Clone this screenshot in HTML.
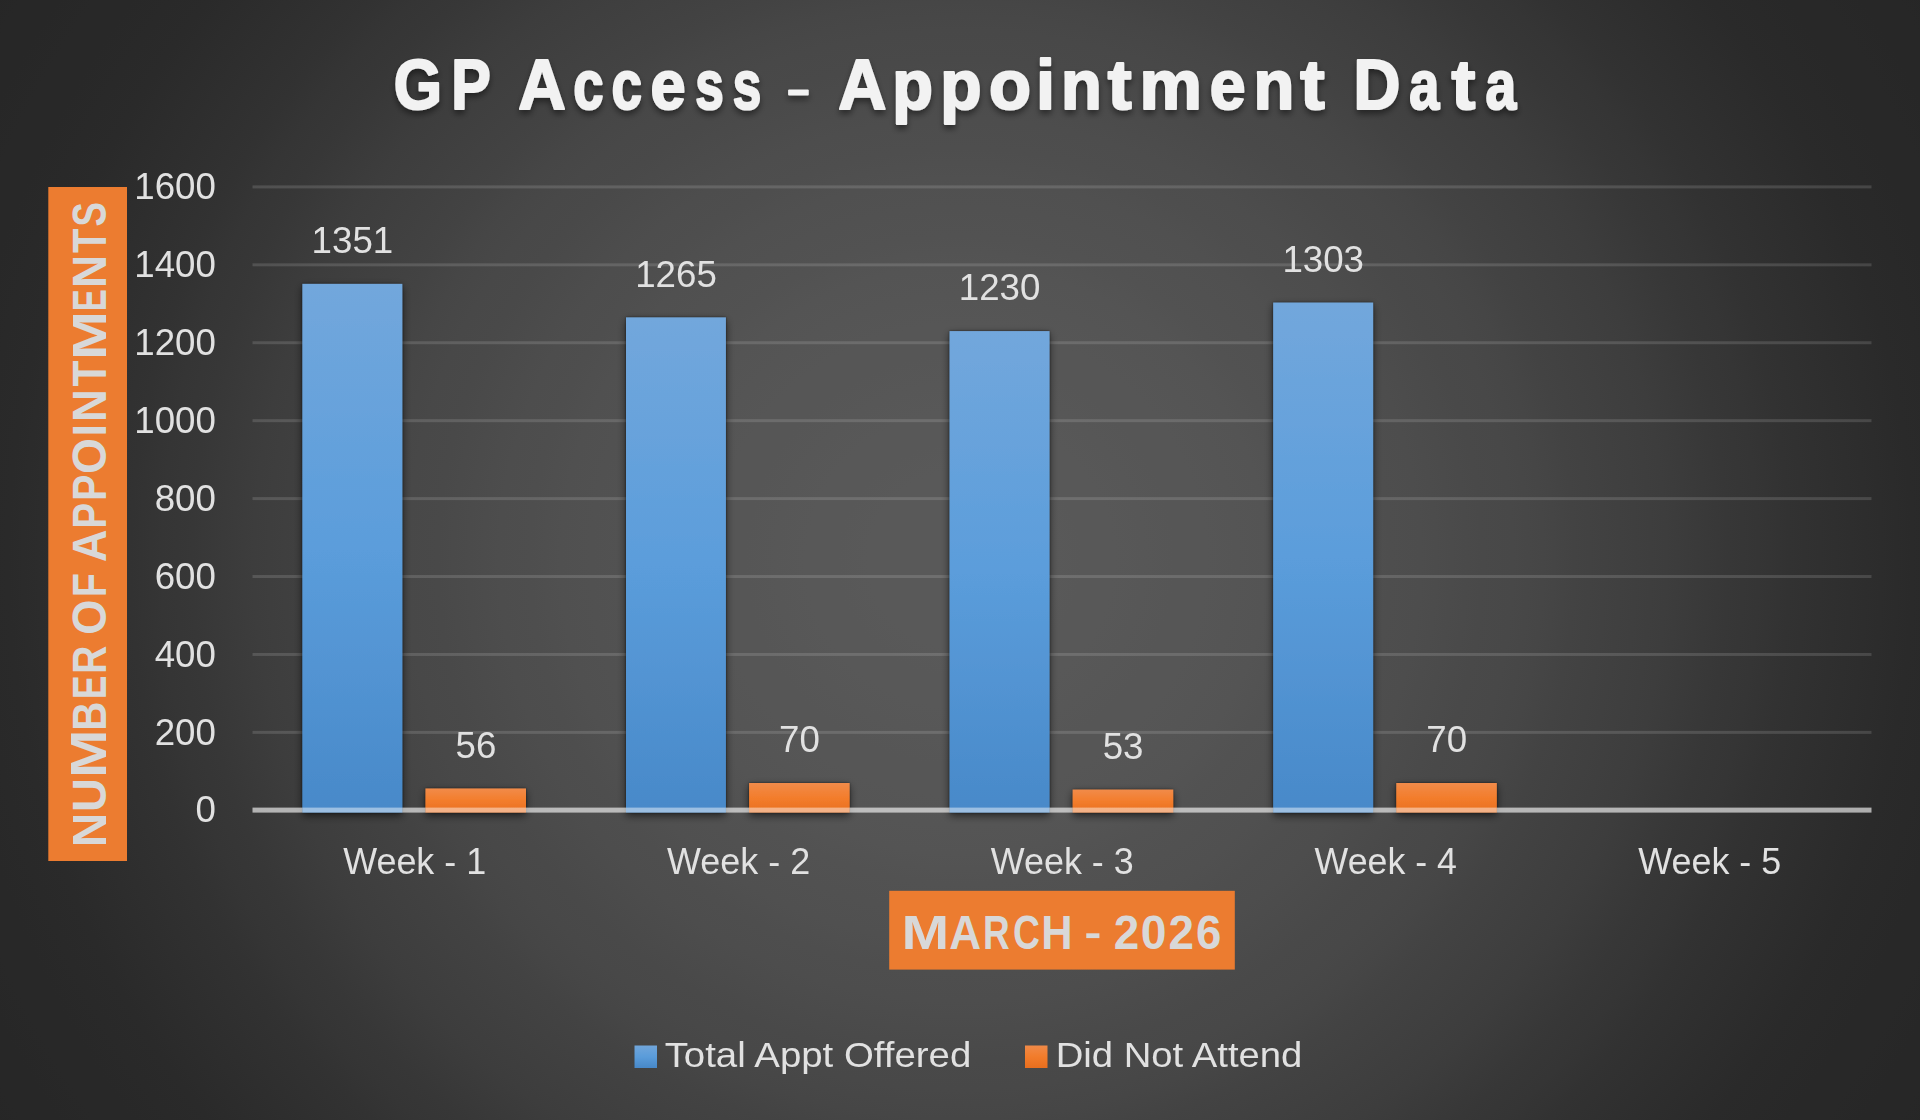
<!DOCTYPE html>
<html><head><meta charset="utf-8"><title>GP Access - Appointment Data</title>
<style>
html,body{margin:0;padding:0;background:#262626;}
body{width:1920px;height:1120px;overflow:hidden;}
svg{display:block;}
text{font-family:"Liberation Sans",sans-serif;}
.r{fill:#e2e2e2;}
.b{font-weight:bold;}
</style></head><body>
<svg width="1920" height="1120" viewBox="0 0 1920 1120">
<defs>
<radialGradient id="bg" gradientUnits="userSpaceOnUse" cx="0" cy="0" r="1" gradientTransform="translate(960 560) scale(1228.5 1176.5)">
<stop offset="0.0000" stop-color="#595959"/><stop offset="0.0250" stop-color="#595959"/><stop offset="0.0500" stop-color="#595959"/><stop offset="0.0750" stop-color="#595959"/><stop offset="0.1000" stop-color="#585858"/><stop offset="0.1250" stop-color="#585858"/><stop offset="0.1500" stop-color="#575757"/><stop offset="0.1750" stop-color="#565656"/><stop offset="0.2000" stop-color="#565656"/><stop offset="0.2250" stop-color="#555555"/><stop offset="0.2500" stop-color="#545454"/><stop offset="0.2750" stop-color="#525252"/><stop offset="0.3000" stop-color="#515151"/><stop offset="0.3250" stop-color="#505050"/><stop offset="0.3500" stop-color="#4e4e4e"/><stop offset="0.3750" stop-color="#4d4d4d"/><stop offset="0.4000" stop-color="#4b4b4b"/><stop offset="0.4250" stop-color="#494949"/><stop offset="0.4500" stop-color="#484848"/><stop offset="0.4750" stop-color="#464646"/><stop offset="0.5000" stop-color="#434343"/><stop offset="0.5250" stop-color="#414141"/><stop offset="0.5500" stop-color="#3f3f3f"/><stop offset="0.5750" stop-color="#3d3d3d"/><stop offset="0.6000" stop-color="#3a3a3a"/><stop offset="0.6250" stop-color="#373737"/><stop offset="0.6500" stop-color="#353535"/><stop offset="0.6750" stop-color="#323232"/><stop offset="0.7000" stop-color="#303030"/><stop offset="0.7250" stop-color="#2e2e2e"/><stop offset="0.7500" stop-color="#2c2c2c"/><stop offset="0.7750" stop-color="#2a2a2a"/><stop offset="0.8000" stop-color="#292929"/><stop offset="0.8250" stop-color="#282828"/><stop offset="0.8500" stop-color="#282828"/><stop offset="0.8750" stop-color="#272727"/><stop offset="0.9000" stop-color="#272727"/><stop offset="0.9250" stop-color="#262626"/><stop offset="0.9500" stop-color="#262626"/><stop offset="0.9750" stop-color="#262626"/><stop offset="1.0000" stop-color="#262626"/></radialGradient>
<linearGradient id="blue" x1="0" y1="0" x2="0" y2="1">
<stop offset="0" stop-color="#72a7dc"/><stop offset="0.5" stop-color="#5b9ddb"/><stop offset="1" stop-color="#4889c9"/></linearGradient>
<linearGradient id="org" x1="0" y1="0" x2="0" y2="1">
<stop offset="0" stop-color="#f18b49"/><stop offset="0.5" stop-color="#f37d2c"/><stop offset="1" stop-color="#e96f1f"/></linearGradient>
<filter id="sh" x="-30%" y="-10%" width="160%" height="130%">
<feGaussianBlur in="SourceAlpha" stdDeviation="4.5"/><feOffset dx="0" dy="3"/>
<feComponentTransfer result="a"><feFuncA type="linear" slope="0.6"/></feComponentTransfer>
<feGaussianBlur in="SourceAlpha" stdDeviation="1.1"/>
<feComponentTransfer result="b"><feFuncA type="linear" slope="0.55"/></feComponentTransfer>
<feMerge><feMergeNode in="a"/><feMergeNode in="b"/><feMergeNode in="SourceGraphic"/></feMerge></filter>
<filter id="shs" x="-30%" y="-100%" width="160%" height="400%">
<feGaussianBlur in="SourceAlpha" stdDeviation="4.5"/><feOffset dx="0" dy="3"/>
<feComponentTransfer result="a"><feFuncA type="linear" slope="0.6"/></feComponentTransfer>
<feGaussianBlur in="SourceAlpha" stdDeviation="1.1"/>
<feComponentTransfer result="b"><feFuncA type="linear" slope="0.55"/></feComponentTransfer>
<feMerge><feMergeNode in="a"/><feMergeNode in="b"/><feMergeNode in="SourceGraphic"/></feMerge></filter>
<filter id="tsh" x="-5%" y="-20%" width="110%" height="150%">
<feGaussianBlur in="SourceAlpha" stdDeviation="3"/><feOffset dx="0" dy="4"/>
<feComponentTransfer><feFuncA type="linear" slope="0.45"/></feComponentTransfer>
<feMerge><feMergeNode/><feMergeNode in="SourceGraphic"/></feMerge></filter>
</defs>
<rect width="1920" height="1120" fill="url(#bg)"/>

<rect x="252.5" y="730.88" width="1619.0" height="3.0" fill="#f2f2f2" fill-opacity="0.145"/>
<rect x="252.5" y="652.95" width="1619.0" height="3.0" fill="#f2f2f2" fill-opacity="0.145"/>
<rect x="252.5" y="575.02" width="1619.0" height="3.0" fill="#f2f2f2" fill-opacity="0.145"/>
<rect x="252.5" y="497.10" width="1619.0" height="3.0" fill="#f2f2f2" fill-opacity="0.145"/>
<rect x="252.5" y="419.17" width="1619.0" height="3.0" fill="#f2f2f2" fill-opacity="0.145"/>
<rect x="252.5" y="341.25" width="1619.0" height="3.0" fill="#f2f2f2" fill-opacity="0.145"/>
<rect x="252.5" y="263.32" width="1619.0" height="3.0" fill="#f2f2f2" fill-opacity="0.145"/>
<rect x="252.5" y="185.40" width="1619.0" height="3.0" fill="#f2f2f2" fill-opacity="0.145"/>
<rect x="302.4" y="283.9" width="99.9" height="528.6" fill="url(#blue)" filter="url(#sh)"/>
<rect x="425.5" y="788.5" width="100.5" height="24.0" fill="url(#org)" filter="url(#shs)"/>
<rect x="626.0" y="317.4" width="99.9" height="495.1" fill="url(#blue)" filter="url(#sh)"/>
<rect x="749.1" y="783.0" width="100.5" height="29.5" fill="url(#org)" filter="url(#shs)"/>
<rect x="949.6" y="331.1" width="99.9" height="481.4" fill="url(#blue)" filter="url(#sh)"/>
<rect x="1072.7" y="789.6" width="100.5" height="22.9" fill="url(#org)" filter="url(#shs)"/>
<rect x="1273.2" y="302.6" width="99.9" height="509.9" fill="url(#blue)" filter="url(#sh)"/>
<rect x="1396.3" y="783.0" width="100.5" height="29.5" fill="url(#org)" filter="url(#shs)"/>
<rect x="252.5" y="807.6" width="49.9" height="5" fill="#ffffff" fill-opacity="0.62"/>
<rect x="302.4" y="807.6" width="99.9" height="5" fill="#ffffff" fill-opacity="0.46"/>
<rect x="402.3" y="807.6" width="23.2" height="5" fill="#ffffff" fill-opacity="0.62"/>
<rect x="425.5" y="807.6" width="100.5" height="5" fill="#ffffff" fill-opacity="0.46"/>
<rect x="526.0" y="807.6" width="100.0" height="5" fill="#ffffff" fill-opacity="0.62"/>
<rect x="626.0" y="807.6" width="99.9" height="5" fill="#ffffff" fill-opacity="0.46"/>
<rect x="725.9" y="807.6" width="23.2" height="5" fill="#ffffff" fill-opacity="0.62"/>
<rect x="749.1" y="807.6" width="100.5" height="5" fill="#ffffff" fill-opacity="0.46"/>
<rect x="849.6" y="807.6" width="100.0" height="5" fill="#ffffff" fill-opacity="0.62"/>
<rect x="949.6" y="807.6" width="99.9" height="5" fill="#ffffff" fill-opacity="0.46"/>
<rect x="1049.5" y="807.6" width="23.2" height="5" fill="#ffffff" fill-opacity="0.62"/>
<rect x="1072.7" y="807.6" width="100.5" height="5" fill="#ffffff" fill-opacity="0.46"/>
<rect x="1173.2" y="807.6" width="100.0" height="5" fill="#ffffff" fill-opacity="0.62"/>
<rect x="1273.2" y="807.6" width="99.9" height="5" fill="#ffffff" fill-opacity="0.46"/>
<rect x="1373.1" y="807.6" width="23.2" height="5" fill="#ffffff" fill-opacity="0.62"/>
<rect x="1396.3" y="807.6" width="100.5" height="5" fill="#ffffff" fill-opacity="0.46"/>
<rect x="1496.8" y="807.6" width="374.7" height="5" fill="#ffffff" fill-opacity="0.62"/>
<g opacity="0.999">
<text class="r" x="352.4" y="253.0" font-size="36.6" text-anchor="middle" textLength="81.6" lengthAdjust="spacingAndGlyphs">1351</text>
<text class="r" x="475.9" y="757.6" font-size="36.6" text-anchor="middle" textLength="40.8" lengthAdjust="spacingAndGlyphs">56</text>
<text class="r" x="676.0" y="286.5" font-size="36.6" text-anchor="middle" textLength="81.6" lengthAdjust="spacingAndGlyphs">1265</text>
<text class="r" x="799.5" y="752.1" font-size="36.6" text-anchor="middle" textLength="40.8" lengthAdjust="spacingAndGlyphs">70</text>
<text class="r" x="999.6" y="300.2" font-size="36.6" text-anchor="middle" textLength="81.6" lengthAdjust="spacingAndGlyphs">1230</text>
<text class="r" x="1123.1" y="758.7" font-size="36.6" text-anchor="middle" textLength="40.8" lengthAdjust="spacingAndGlyphs">53</text>
<text class="r" x="1323.2" y="271.7" font-size="36.6" text-anchor="middle" textLength="81.6" lengthAdjust="spacingAndGlyphs">1303</text>
<text class="r" x="1446.7" y="752.1" font-size="36.6" text-anchor="middle" textLength="40.8" lengthAdjust="spacingAndGlyphs">70</text>
<text class="r" x="215.9" y="822.4" font-size="36.6" text-anchor="end" textLength="20.4" lengthAdjust="spacingAndGlyphs">0</text>
<text class="r" x="215.9" y="744.5" font-size="36.6" text-anchor="end" textLength="61.2" lengthAdjust="spacingAndGlyphs">200</text>
<text class="r" x="215.9" y="666.5" font-size="36.6" text-anchor="end" textLength="61.2" lengthAdjust="spacingAndGlyphs">400</text>
<text class="r" x="215.9" y="588.6" font-size="36.6" text-anchor="end" textLength="61.2" lengthAdjust="spacingAndGlyphs">600</text>
<text class="r" x="215.9" y="510.7" font-size="36.6" text-anchor="end" textLength="61.2" lengthAdjust="spacingAndGlyphs">800</text>
<text class="r" x="215.9" y="432.8" font-size="36.6" text-anchor="end" textLength="81.6" lengthAdjust="spacingAndGlyphs">1000</text>
<text class="r" x="215.9" y="354.8" font-size="36.6" text-anchor="end" textLength="81.6" lengthAdjust="spacingAndGlyphs">1200</text>
<text class="r" x="215.9" y="276.9" font-size="36.6" text-anchor="end" textLength="81.6" lengthAdjust="spacingAndGlyphs">1400</text>
<text class="r" x="215.9" y="199.0" font-size="36.6" text-anchor="end" textLength="81.6" lengthAdjust="spacingAndGlyphs">1600</text>
<text class="r" transform="translate(343.17,874.1) scale(0.9710,1)" font-size="37">Week - 1</text>
<text class="r" transform="translate(666.97,874.1) scale(0.9717,1)" font-size="37">Week - 2</text>
<text class="r" transform="translate(990.77,874.1) scale(0.9698,1)" font-size="37">Week - 3</text>
<text class="r" transform="translate(1314.57,874.1) scale(0.9661,1)" font-size="37">Week - 4</text>
<text class="r" transform="translate(1638.37,874.1) scale(0.9692,1)" font-size="37">Week - 5</text>
<rect x="48.3" y="187" width="78.7" height="674" fill="#ed7d31"/>
<g class="b" font-size="49.0" fill="#d9d9d9" transform="translate(106.2,844) rotate(-90)">
<text transform="translate(-3.13,0) scale(0.9761,1)">N</text>
<text transform="translate(31.99,0) scale(0.9558,1)">U</text>
<text transform="translate(65.97,0) scale(1.1879,1)">M</text>
<text transform="translate(113.29,0) scale(0.8197,1)">B</text>
<text transform="translate(145.03,0) scale(0.7179,1)">E</text>
<text transform="translate(170.05,0) scale(0.8002,1)">R</text>
<text transform="translate(209.19,0) scale(0.9250,1)">O</text>
<text transform="translate(246.84,0) scale(0.8043,1)">F</text>
<text transform="translate(281.88,0) scale(0.9138,1)">A</text>
<text transform="translate(315.41,0) scale(0.7838,1)">P</text>
<text transform="translate(343.37,0) scale(0.7947,1)">P</text>
<text transform="translate(370.05,0) scale(0.9426,1)">O</text>
<text transform="translate(407.42,0) scale(0.9309,1)">I</text>
<text transform="translate(421.93,0) scale(0.9275,1)">N</text>
<text transform="translate(457.58,0) scale(0.8648,1)">T</text>
<text transform="translate(484.03,0) scale(1.1996,1)">M</text>
<text transform="translate(532.77,0) scale(0.6742,1)">E</text>
<text transform="translate(555.90,0) scale(0.9379,1)">N</text>
<text transform="translate(591.10,0) scale(0.8129,1)">T</text>
<text transform="translate(617.40,0) scale(0.7480,1)">S</text>
</g>
<rect x="889.2" y="890.8" width="345.6" height="78.8" fill="#ed7d31"/>
<g class="b" font-size="48.2" fill="#d9d9d9">
<text transform="translate(901.44,948.5) scale(1.1868,1)">M</text>
<text transform="translate(949.20,948.5) scale(0.9135,1)">A</text>
<text transform="translate(983.00,948.5) scale(0.7676,1)">R</text>
<text transform="translate(1013.01,948.5) scale(0.7729,1)">C</text>
<text transform="translate(1041.17,948.5) scale(0.9005,1)">H</text>
<rect x="1086.25" y="933.3" width="13.15" height="4.8"/>
<text transform="translate(1113.70,948.5) scale(0.9509,1)">2</text>
<text transform="translate(1140.65,948.5) scale(0.9609,1)">0</text>
<text transform="translate(1168.60,948.5) scale(0.9509,1)">2</text>
<text transform="translate(1196.09,948.5) scale(0.9460,1)">6</text>
</g>
<rect x="634.5" y="1045.5" width="22.5" height="22.5" fill="url(#blue)"/>
<text class="r" transform="translate(664.64,1067) scale(1.0822,1)" font-size="35.5">Total Appt Offered</text>
<rect x="1025" y="1045.5" width="22.5" height="22.5" fill="url(#org)"/>
<text class="r" transform="translate(1055.64,1067) scale(1.0780,1)" font-size="35.5">Did Not Attend</text>
</g>
<g filter="url(#tsh)" class="b" font-size="70.20" fill="#f2f2f2" stroke="#f2f2f2" stroke-width="2.2" stroke-linejoin="round">
<text transform="translate(393.83,109.30000000000001) scale(0.8833,1)">G</text>
<text transform="translate(451.16,109.30000000000001) scale(0.8442,1)">P</text>
<text transform="translate(518.14,109.30000000000001) scale(0.9380,1)">A</text>
<text transform="translate(573.13,109.30000000000001) scale(0.7776,1)">c</text>
<text transform="translate(611.47,109.30000000000001) scale(0.7817,1)">c</text>
<text transform="translate(650.43,109.30000000000001) scale(0.9001,1)">e</text>
<text transform="translate(695.26,109.30000000000001) scale(0.7312,1)">s</text>
<text transform="translate(732.76,109.30000000000001) scale(0.7312,1)">s</text>
<rect x="788.10" y="89.6" width="20.65" height="5.8" rx="1" stroke="none"/>
<text transform="translate(838.13,109.30000000000001) scale(0.9502,1)">A</text>
<text transform="translate(892.25,109.30000000000001) scale(0.9486,1)">p</text>
<text transform="translate(940.34,109.30000000000001) scale(0.9645,1)">p</text>
<text transform="translate(989.00,109.30000000000001) scale(0.9793,1)">o</text>
<text transform="translate(1036.37,109.30000000000001) scale(0.9519,1)">i</text>
<text transform="translate(1061.04,109.30000000000001) scale(0.9513,1)">n</text>
<text transform="translate(1107.76,109.30000000000001) scale(1.0212,1)">t</text>
<text transform="translate(1139.56,109.30000000000001) scale(1.0005,1)">m</text>
<text transform="translate(1209.75,109.30000000000001) scale(0.9181,1)">e</text>
<text transform="translate(1253.54,109.30000000000001) scale(0.9513,1)">n</text>
<text transform="translate(1300.27,109.30000000000001) scale(1.0463,1)">t</text>
<text transform="translate(1353.57,109.30000000000001) scale(0.9252,1)">D</text>
<text transform="translate(1409.28,109.30000000000001) scale(0.7710,1)">a</text>
<text transform="translate(1451.51,109.30000000000001) scale(1.0191,1)">t</text>
<text transform="translate(1485.51,109.30000000000001) scale(0.7874,1)">a</text>
</g>
</svg></body></html>
